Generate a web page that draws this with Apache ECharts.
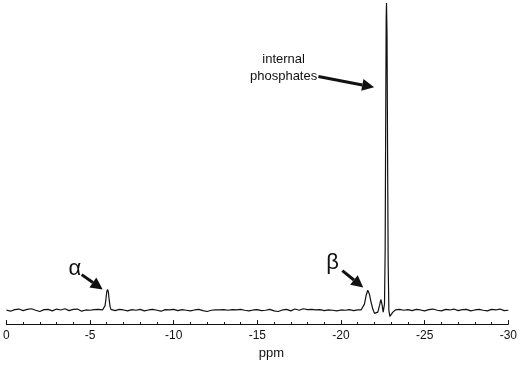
<!DOCTYPE html>
<html>
<head>
<meta charset="utf-8">
<script src="https://cdn.jsdelivr.net/npm/echarts@6/dist/echarts.min.js"></script>
<style>
  html, body { margin: 0; padding: 0; background: #fff; }
  #nmr { width: 520px; height: 365px; }
</style>
</head>
<body>
<div id="nmr"></div>
<script>
// baseline from 0 to -5.5 ppm
var baseA = [
    [0, 0.1], [-0.25, -0.3], [-0.5, 0.2], [-0.75, 0.4], [-1, -0.1], [-1.25, 0.3],
    [-1.5, 0.5], [-1.75, 0.0], [-2, -0.4], [-2.25, 0.2], [-2.5, 0.3], [-2.75, -0.2],
    [-3, 0.4], [-3.25, 0.1], [-3.5, 0.5], [-3.75, -0.1], [-4, 0.3], [-4.25, 0.4],
    [-4.5, -0.3], [-4.75, 0.1], [-5, 0.0], [-5.25, 0.2], [-5.5, 0.3]
];
// alpha phosphate
var alphaPeak = [
    [-5.75, 0.1], [-5.85, 0.5], [-5.9, 1.5], [-5.95, 3.5], [-6.0, 6.0], [-6.05, 6.8],
    [-6.1, 5.8], [-6.15, 3.2], [-6.2, 1.2], [-6.25, 0.3], [-6.35, -0.2]
];
var baseB = [
    [-6.5, -0.1], [-6.75, 0.3], [-7, 0.1], [-7.25, -0.2], [-7.5, 0.2], [-7.75, 0.0],
    [-8, 0.3], [-8.25, -0.2], [-8.5, 0.1], [-8.75, 0.3], [-9, 0.0], [-9.25, -0.3],
    [-9.5, 0.2], [-9.75, 0.1], [-10, 0.3], [-10.25, -0.1], [-10.5, 0.2], [-10.75, 0.0],
    [-11, -0.2], [-11.25, 0.1], [-11.5, 0.3], [-11.75, -0.1], [-12, -0.4], [-12.25, 0.0],
    [-12.5, 0.1], [-12.75, 0.1], [-13, 0.2], [-13.25, 0.0], [-13.5, 0.2], [-13.75, 0.1],
    [-14, 0.3], [-14.25, 0.0], [-14.5, -0.2], [-14.75, 0.1], [-15, 0.2], [-15.25, -0.1],
    [-15.5, 0.0], [-15.75, 0.3], [-16, -0.2], [-16.25, -0.4], [-16.5, 0.1], [-16.75, 0.3],
    [-17, -0.2], [-17.25, 0.4], [-17.5, 0.0], [-17.75, 0.5], [-18, 0.2], [-18.25, 0.3],
    [-18.5, 0.1], [-18.75, 0.2], [-19, -0.1], [-19.25, 0.1], [-19.5, 0.0], [-19.75, -0.2],
    [-20, 0.1], [-20.25, 0.0], [-20.5, 0.2], [-20.75, -0.1], [-21, 0.1]
];
// beta phosphate and the internal phosphates
var betaPeaks = [
    [-21.2, 0.1], [-21.3, 0.6], [-21.4, 2.0], [-21.5, 4.8], [-21.6, 6.5], [-21.7, 5.2],
    [-21.8, 2.6], [-21.9, 0.4], [-22.0, -1.0], [-22.1, -1.3], [-22.2, -0.6], [-22.3, 1.5],
    [-22.38, 3.5], [-22.45, 2.0], [-22.52, -0.6], [-22.6, 2], [-22.64, 20], [-22.67, 60],
    [-22.7, 95], [-22.72, 100], [-22.75, 90], [-22.78, 55], [-22.82, 15], [-22.86, 0],
    [-22.92, -2.0], [-23.0, -1.6], [-23.1, -0.6]
];
var baseC = [
    [-23.25, 0.1], [-23.5, 0.3], [-23.75, 0.0], [-24, 0.2], [-24.25, -0.1], [-24.5, 0.3],
    [-24.75, 0.1], [-25, -0.2], [-25.25, 0.2], [-25.5, 0.4], [-25.75, 0.0], [-26, -0.2],
    [-26.25, 0.3], [-26.5, 0.1], [-26.75, 0.4], [-27, -0.1], [-27.25, 0.2], [-27.5, 0.3],
    [-27.75, -0.2], [-28, 0.1], [-28.25, 0.3], [-28.5, 0.0], [-28.75, -0.2], [-29, 0.3],
    [-29.25, 0.1], [-29.5, 0.4], [-29.75, -0.1], [-30, 0.0]
];

var spectrum = baseA.concat(alphaPeak, baseB, betaPeaks, baseC);

// annotations in data coords: label position, arrow tail, arrow head
var notes = [
    { text: 'α', size: 22, at: [-4.1, 13.5], from: [-4.5, 11.6], to: [-5.76, 6.8] },
    { text: 'β', size: 22, at: [-19.5, 15.5], from: [-20.08, 12.9], to: [-21.33, 7.4] },
    { text: 'internal\nphosphates', size: 13, at: [-16.57, 78.8], from: [-18.65, 76.1], to: [-21.98, 72.6] }
];

var dom = document.getElementById('nmr');
var myChart = echarts.init(dom);

var option = {
    animation: false,
    backgroundColor: '#fff',
    textStyle: { fontFamily: 'Liberation Sans' },
    grid: { left: 5, right: 10, top: 3, bottom: 38 },
    xAxis: {
        type: 'value',
        min: -30,
        max: 0,
        interval: 5,
        inverse: true,
        name: 'ppm',
        nameLocation: 'middle',
        nameGap: 22,
        nameTextStyle: { fontSize: 13, color: '#111', padding: [0, 0, 0, 28] },
        axisLine: { onZero: false, lineStyle: { color: '#111', width: 1 } },
        axisTick: { inside: true, length: 4, lineStyle: { color: '#111' } },
        minorTick: { show: true, splitNumber: 5, length: 2, lineStyle: { color: '#111' } },
        axisLabel: { fontSize: 12, color: '#111', margin: 6 },
        splitLine: { show: false }
    },
    yAxis: {
        type: 'value',
        min: -4.5,
        max: 100,
        show: false
    },
    series: [{
        type: 'line',
        data: spectrum,
        showSymbol: false,
        lineStyle: { color: '#111', width: 1.2 }
    }]
};

myChart.setOption(option);

var graphics = [];
notes.forEach(function (n) {
    var p = myChart.convertToPixel({ gridIndex: 0 }, n.at);
    var a = myChart.convertToPixel({ gridIndex: 0 }, n.from);
    var b = myChart.convertToPixel({ gridIndex: 0 }, n.to);
    graphics.push({
        type: 'text',
        x: p[0], y: p[1],
        style: {
            text: n.text, fontSize: n.size, fill: '#111',
            fontFamily: 'Liberation Sans', align: 'center', verticalAlign: 'middle',
            lineHeight: n.size + 4
        }
    });
    var dx = b[0] - a[0], dy = b[1] - a[1];
    var len = Math.sqrt(dx * dx + dy * dy);
    var ux = dx / len, uy = dy / len;
    var headLen = 12, headW = 6;
    var bx = b[0] - ux * headLen, by = b[1] - uy * headLen;
    graphics.push({
        type: 'line',
        shape: { x1: a[0], y1: a[1], x2: bx, y2: by },
        style: { stroke: '#111', lineWidth: 3 }
    });
    graphics.push({
        type: 'polygon',
        shape: { points: [[b[0], b[1]], [bx - uy * headW, by + ux * headW], [bx + uy * headW, by - ux * headW]] },
        style: { fill: '#111' }
    });
});
myChart.setOption({ graphic: graphics });
</script>
</body>
</html>
